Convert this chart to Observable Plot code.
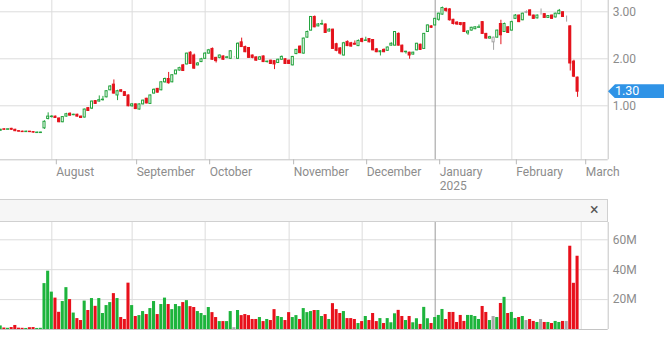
<!DOCTYPE html>
<html><head><meta charset="utf-8">
<script src="https://cdn.jsdelivr.net/npm/d3@7"></script>
<script src="https://cdn.jsdelivr.net/npm/@observablehq/plot@0.6"></script>
<style>
html,body{margin:0;padding:0;background:#fff;}
#wrap{position:relative;width:672px;height:343px;overflow:hidden;font-family:Roboto,"Liberation Sans",sans-serif;}
#main,#vol{position:absolute;left:0;}
#main{top:0;}
#vol{top:222px;}
#bar{position:absolute;left:0;top:199px;width:608px;height:23px;box-sizing:border-box;background:#f6f6f6;border-top:1px solid #d0d0d0;border-bottom:1px solid #d0d0d0;border-right:1px solid #d0d0d0;}
#close{position:absolute;left:590px;top:201px;font-size:16px;line-height:18px;color:#555;}
#tag{position:absolute;left:608px;width:56px;height:14px;background:#2f93e6;color:#fff;font-size:12.5px;line-height:14px;box-sizing:border-box;padding-left:7px;clip-path:polygon(0 50%,7px 0,100% 0,100% 100%,7px 100%);}
</style>
</head><body>
<div id="wrap">
  <div id="main"></div>
  <div id="bar"></div>
  <div id="close">×</div>
  <div id="vol"></div>
</div>
<script>
// ---- data ----
const tradeStart = "2024-07-12";
const tradeEnd = "2025-02-28";
// sessions absent from the feed's calendar (as the chart's month ticks show)
const holidays = ["2024-09-02","2024-11-28","2024-12-24","2024-12-25","2025-01-01","2025-01-20","2025-02-17"];
const tickLabels = ["August","September","October","November","December","January\n2025","February","March"];
const priceTicks = [1, 2, 3];
const volumeTicks = [20, 40, 60];
const lastPrice = 1.30;
const grayDays = [135, 144, 148, 155];

const open = [
0.47,0.50,0.49,0.51,0.49,0.46,0.45,0.44,0.45,0.44,0.42,0.42,
0.52,0.72,0.76,0.77,0.73,0.65,0.77,0.83,0.80,0.81,0.77,0.75,
0.95,0.94,1.10,1.09,1.12,1.18,1.33,1.45,1.22,1.33,1.29,1.22,
0.99,1.03,0.92,1.03,1.15,1.04,1.26,1.36,1.33,1.50,1.57,1.50,
1.67,1.75,1.86,1.88,2.13,2.07,1.86,1.93,2.00,2.11,2.21,2.02,
2.02,2.05,2.02,2.00,2.03,2.00,2.35,2.25,2.23,2.07,2.03,1.98,
2.05,1.93,1.96,1.95,1.91,1.98,1.99,1.96,1.86,2.10,2.26,2.11,
2.45,2.60,2.89,2.69,2.73,2.73,2.58,2.62,2.31,2.22,2.07,2.36,
2.33,2.32,2.27,2.42,2.38,2.42,2.40,2.20,2.14,2.19,2.17,2.28,
2.28,2.53,2.28,2.14,2.13,2.09,2.18,2.30,2.21,2.57,2.69,2.71,
2.83,2.94,3.06,3.05,2.83,2.77,2.76,2.76,2.54,2.60,2.63,2.66,
2.78,2.53,2.43,2.35,2.45,2.74,2.57,2.67,2.60,2.85,2.92,2.82,
2.98,3.03,2.92,2.86,2.95,2.95,2.87,2.92,2.88,2.95,2.99,2.89,
2.69,1.94,1.60];
const high = [
0.50,0.51,0.51,0.52,0.50,0.47,0.46,0.46,0.45,0.45,0.44,0.44,
0.68,0.85,0.79,0.78,0.74,0.77,0.84,0.85,0.82,0.82,0.78,0.93,
0.96,1.10,1.11,1.21,1.20,1.32,1.43,1.55,1.33,1.34,1.30,1.23,
1.05,1.04,1.04,1.12,1.16,1.23,1.36,1.37,1.51,1.59,1.71,1.66,
1.76,1.82,1.88,2.12,2.15,2.10,1.92,2.01,2.13,2.20,2.23,2.03,
2.08,2.06,2.05,2.17,2.04,2.34,2.44,2.27,2.24,2.08,2.04,2.05,
2.06,1.95,1.97,1.96,1.99,2.06,2.00,1.97,2.05,2.20,2.27,2.44,
2.59,2.90,2.91,2.75,2.82,2.74,2.64,2.63,2.33,2.24,2.35,2.38,
2.35,2.38,2.40,2.44,2.46,2.43,2.41,2.22,2.17,2.21,2.25,2.34,
2.58,2.55,2.29,2.16,2.14,2.14,2.33,2.31,2.54,2.72,2.70,2.86,
2.97,3.10,3.08,3.07,2.84,2.79,2.77,2.77,2.60,2.67,2.68,2.72,
2.79,2.54,2.48,2.46,2.61,2.82,2.76,2.68,2.80,2.94,2.93,2.97,
3.02,3.04,2.93,2.93,3.06,2.96,2.92,2.93,2.97,3.05,3.00,2.91,
2.70,1.97,1.61];
const low = [
0.46,0.48,0.48,0.48,0.45,0.44,0.44,0.44,0.43,0.42,0.42,0.41,
0.50,0.70,0.74,0.73,0.64,0.64,0.76,0.78,0.79,0.76,0.73,0.74,
0.88,0.92,1.03,1.08,1.10,1.17,1.32,1.25,1.11,1.28,1.20,0.98,
0.97,0.92,0.91,1.02,1.04,1.03,1.25,1.27,1.32,1.48,1.46,1.49,
1.66,1.74,1.73,1.87,1.88,1.78,1.85,1.92,1.99,2.10,1.97,1.91,
2.00,1.97,2.00,1.99,2.02,1.99,2.24,2.13,2.01,2.00,1.95,1.97,
1.92,1.91,1.88,1.77,1.90,1.97,1.88,1.88,1.85,2.09,2.11,2.10,
2.44,2.59,2.66,2.68,2.71,2.54,2.57,2.20,2.15,2.08,2.06,2.26,
2.25,2.29,2.26,2.34,2.37,2.34,2.17,2.13,2.06,2.13,2.16,2.27,
2.27,2.27,2.13,2.10,1.99,2.08,2.17,2.18,2.20,2.56,2.65,2.70,
2.80,2.93,2.99,2.80,2.72,2.71,2.70,2.56,2.50,2.59,2.62,2.65,
2.52,2.42,2.42,2.18,2.44,2.30,2.56,2.54,2.59,2.84,2.77,2.81,
2.96,2.91,2.84,2.85,2.93,2.86,2.86,2.84,2.87,2.94,2.88,2.78,
1.74,1.60,1.18];
const close = [
0.49,0.49,0.50,0.49,0.46,0.45,0.44,0.45,0.44,0.43,0.43,0.43,
0.66,0.77,0.77,0.74,0.65,0.76,0.82,0.79,0.81,0.77,0.74,0.92,
0.89,1.09,1.04,1.12,1.13,1.31,1.41,1.26,1.31,1.30,1.21,0.99,
1.03,0.93,1.03,1.11,1.05,1.22,1.34,1.28,1.50,1.57,1.48,1.65,
1.75,1.80,1.74,2.11,1.89,1.79,1.90,1.99,2.11,2.18,1.98,1.95,
2.07,1.98,2.03,2.16,2.03,2.32,2.25,2.14,2.02,2.02,1.96,2.03,
1.93,1.94,1.89,1.88,1.98,2.04,1.89,1.89,2.04,2.19,2.12,2.43,
2.57,2.89,2.67,2.73,2.74,2.55,2.62,2.21,2.17,2.11,2.33,2.27,
2.26,2.30,2.38,2.36,2.39,2.35,2.18,2.14,2.16,2.14,2.24,2.32,
2.57,2.28,2.14,2.15,2.07,2.13,2.32,2.19,2.53,2.71,2.66,2.85,
2.96,3.08,3.02,2.82,2.74,2.73,2.72,2.57,2.58,2.66,2.67,2.67,
2.53,2.43,2.46,2.45,2.60,2.50,2.74,2.55,2.78,2.92,2.78,2.96,
2.99,2.92,2.85,2.92,2.95,2.87,2.91,2.85,2.96,3.02,2.89,2.89,
1.90,1.62,1.30];
const volume = [ // millions
2.4,1.0,0.8,1.3,2.7,0.9,0.8,0.7,1.2,1.3,0.7,0.8,
30.7,39,25,21,11.5,18.7,28,20,11,7.3,6,19,
12.7,20.7,15.5,20.7,10.7,16,18,24,20.7,8,6.7,31,
16,8.7,9.3,12,10,14,18.7,10,16.7,21,16.7,13.3,
16.7,15.3,18,19.3,15.3,14.7,12,10.7,9.3,
14.7,11.3,8,5.3,5.3,5.3,12,1.2,12.7,9.3,10,9.3,
6.7,6.7,8,5.3,6.7,6,13.3,8.7,8,6,11.3,8,
9.3,6.7,14,11.3,12,12.7,12.7,8.7,10,6.7,17.3,
13.3,10.7,12,7.3,7.3,6.7,4,5.3,8.7,6,10.7,5.3,7.3,4,7.3,
4.5,10.5,12.8,8.7,6,8.7,4.5,7.2,3.4,14.8,7.2,4,
8,9.4,13.4,6.7,11.4,11.4,4.7,9.4,5.4,9.4,9.4,8.7,
6.7,15.4,11.4,6,8.7,8,17.4,21.5,10.7,11.4,7.4,8,
8.7,6,6.7,5.4,4.7,6.7,4.7,4.7,4,5.4,4.7,5.4,5.4,
55.7,30.9,49];

// ---- trading calendar ----
const fmtDay = d3.utcFormat("%Y-%m-%d");
const days = d3.utcDays(new Date(tradeStart), d3.utcDay.offset(new Date(tradeEnd), 1))
  .filter(d => d.getUTCDay() % 6 !== 0 && !holidays.includes(fmtDay(d)));

const rows = days.map((d, i) => {
  const o = open[i], c = close[i];
  const tone = (grayDays.includes(i) || o === c) ? "flat" : (c > o ? "up" : "down");
  return {i, date: d, o, h: high[i], l: low[i], c, v: volume[i], tone};
});

const monthTicks = [];
for (let i = 1; i < days.length; i++) {
  if (days[i].getUTCMonth() !== days[i - 1].getUTCMonth()) monthTicks.push(i);
}
monthTicks.push(days.length); // first trading day of March
const labelOf = new Map(monthTicks.map((t, k) => [t, tickLabels[k]]));
const janTick = monthTicks[tickLabels.findIndex(s => s.startsWith("January"))];
const otherTicks = monthTicks.filter(t => t !== janTick);

const candleColor = {up: "#22a33d", down: "#e4121b", flat: "#a3a3a3"};
const volColor = {up: "#1db43c", down: "#e8101b", flat: "#a8a8a8"};
const bodyFill = {up: "#ffffff", down: "#e4121b", flat: "#ffffff"};

const xDomain = [-0.055, 166.39];
const yDomain = [-0.149, 3.2404];
const vDomain = [0, 71.57];
const grid = "#dcdcdc", janColor = "#9a9a9a", edge = "#c4c4c4", txt = "#8c8c8c";
const fontStyle = {fontFamily: "Roboto, 'Liberation Sans', sans-serif", fontSize: "12px", background: "transparent", overflow: "visible"};

const main = Plot.plot({
  width: 672, height: 200,
  marginLeft: 0, marginRight: 64.3, marginTop: 0, marginBottom: 40.7,
  style: fontStyle,
  x: {domain: xDomain},
  y: {domain: yDomain},
  color: {type: "identity"},
  marks: [
    Plot.ruleY(priceTicks, {stroke: grid}),
    Plot.ruleX(otherTicks, {stroke: grid}),
    Plot.ruleX([janTick], {stroke: janColor}),
    Plot.ruleX(rows, {x: "i", y1: "l", y2: "h", stroke: d => candleColor[d.tone], strokeWidth: 1}),
    Plot.rect(rows, {x1: d => d.i - 0.28, x2: d => d.i + 0.28, y1: "o", y2: "c",
      fill: d => bodyFill[d.tone], stroke: d => candleColor[d.tone], strokeWidth: 1}),
    Plot.ruleY([yDomain[0]], {stroke: edge}),
    Plot.ruleX([xDomain[1]], {stroke: edge}),
    Plot.axisX({ticks: monthTicks, tickFormat: t => labelOf.get(t), tickSize: 5, tickPadding: 1.5,
      textAnchor: "start", dx: 4.5, stroke: "#b8b8b8", fill: txt, lineHeight: 1.17, label: null}),
    Plot.axisY({anchor: "right", ticks: priceTicks, tickFormat: d3.format(".2f"), tickSize: 0,
      tickPadding: 4.5, fill: txt, label: null})
  ]
});
document.getElementById("main").append(main);

const vol = Plot.plot({
  width: 672, height: 121,
  marginLeft: 0, marginRight: 64.3, marginTop: 0, marginBottom: 14,
  style: fontStyle,
  x: {domain: xDomain, axis: null},
  y: {domain: vDomain},
  color: {type: "identity"},
  marks: [
    Plot.ruleY(volumeTicks, {stroke: grid}),
    Plot.ruleX(otherTicks, {stroke: grid}),
    Plot.ruleX([janTick], {stroke: janColor}),
    Plot.rect(rows, {x1: d => d.i - 0.42, x2: d => d.i + 0.42, y1: 0, y2: "v", fill: d => volColor[d.tone]}),
    Plot.ruleY([0], {stroke: edge}),
    Plot.ruleX([xDomain[1]], {stroke: edge}),
    Plot.axisY({anchor: "right", ticks: volumeTicks, tickFormat: d => d + "M", tickSize: 0,
      tickPadding: 4.5, fill: txt, label: null})
  ]
});
document.getElementById("vol").append(vol);

// last-price tag placed with the chart's own y scale
const tag = document.createElement("div");
tag.id = "tag";
tag.textContent = d3.format(".2f")(lastPrice);
tag.style.top = (main.scale("y").apply(lastPrice) - 7) + "px";
document.getElementById("wrap").append(tag);
</script>
</body></html>
